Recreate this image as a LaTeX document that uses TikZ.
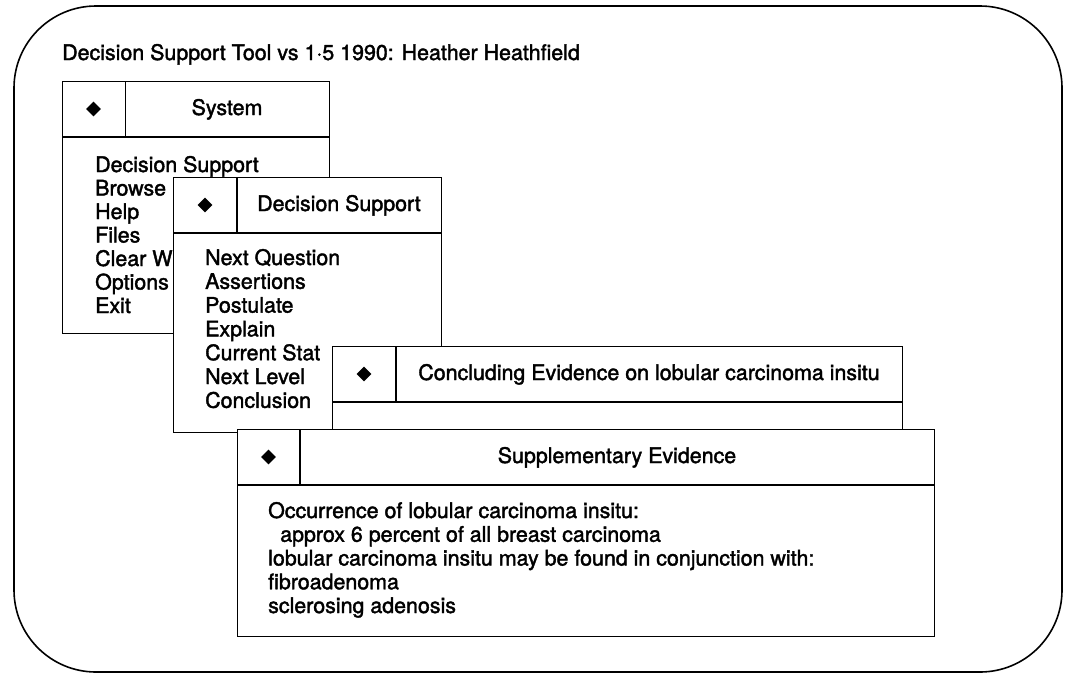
\documentclass[tikz,border=0pt]{standalone}
\usepackage{fontspec}
\setmainfont{TeX Gyre Heros}[FakeBold=1.8]
\usetikzlibrary{shapes.geometric}
\begin{document}
\begin{tikzpicture}[x=1pt,y=-1pt,
  frame/.style={line width=1.6pt},
  win/.style={draw, fill=white, line width=1.2pt, inner sep=0pt, anchor=north west},
  rule/.style={line width=1.2pt},
  knob/.style={diamond, fill=black, inner sep=0pt, minimum width=15pt, minimum height=15pt},
  txt/.style={font=\fontsize{21.4}{24}\selectfont, inner sep=0pt, anchor=base west},
  head/.style={font=\fontsize{21.4}{24}\selectfont, inner sep=0pt, anchor=base}]
\useasboundingbox (0,0) rectangle (1067,675);

% outer screen frame
\draw[frame, rounded corners=82pt] (14,6) rectangle (1062,672);

% title line
\node[txt] (title) at (62,60) {Decision Support Tool vs 1·5 1990: Heather Heathfield};

% ---- System window
\node[win, minimum width=267pt, minimum height=252pt] (sys) at (62,81) {};
\draw[rule] (62,137) -- (329,137);
\draw[rule] (125.5,81) -- (125.5,137);
\node[knob] (sysk) at (93.5,109) {};
\node[head] (syst) at (227,115) {System};
\foreach \t [count=\i from 0] in {Decision Support, Browse, Help, Files, Clear W, Options, Exit}
  \node[txt] (sysm\i) at (95,{172+23.5*\i}) {\t};

% ---- Decision Support window
\node[win, minimum width=268pt, minimum height=255pt] (ds) at (173,177) {};
\draw[rule] (173,233) -- (441,233);
\draw[rule] (237,177) -- (237,233);
\node[knob] (dsk) at (205,205) {};
\node[head] (dst) at (339,211) {Decision Support};
\foreach \t [count=\i from 0] in {Next Question, Assertions, Postulate, Explain, Current Stat, Next Level, Conclusion}
  \node[txt] (dsm\i) at (205,{265+23.8*\i}) {\t};

% ---- Concluding Evidence window
\node[win, minimum width=570pt, minimum height=120pt] (ce) at (332,346) {};
\draw[rule] (332,402) -- (902,402);
\draw[rule] (396,346) -- (396,402);
\node[knob] (cek) at (364,374) {};
\node[head] (cet) at (649,380) {Concluding Evidence on lobular carcinoma insitu};

% ---- Supplementary Evidence window
\node[win, minimum width=697pt, minimum height=207pt] (se) at (237,429) {};
\draw[rule] (237,485) -- (934,485);
\draw[rule] (300,429) -- (300,485);
\node[knob] (sek) at (268.5,457) {};
\node[head] (set) at (617,463) {Supplementary Evidence};
\node[txt] (sem0) at (268,518) {Occurrence of lobular carcinoma insitu:};
\node[txt] (sem1) at (280,541.75) {approx 6 percent of all breast carcinoma};
\node[txt] (sem2) at (268,565.5) {lobular carcinoma insitu may be found in conjunction with:};
\node[txt] (sem3) at (268,589.25) {fibroadenoma};
\node[txt] (sem4) at (268,613) {sclerosing adenosis};
\end{tikzpicture}
\end{document}
